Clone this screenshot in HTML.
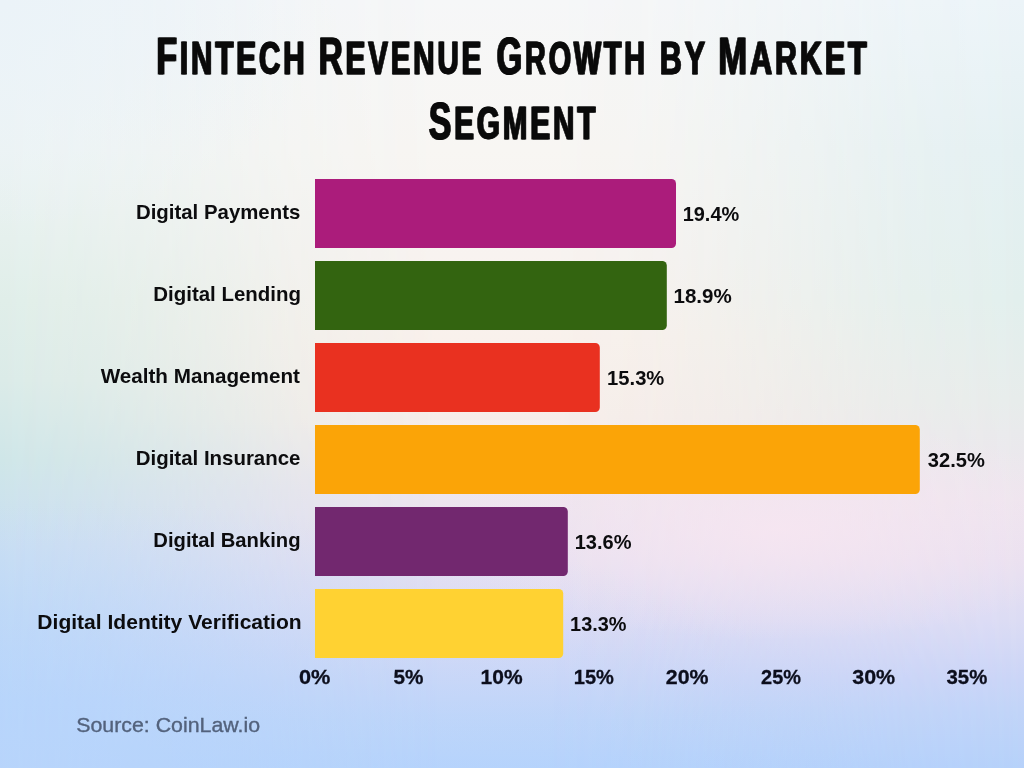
<!DOCTYPE html>
<html>
<head>
<meta charset="utf-8">
<title>Fintech Revenue Growth by Market Segment</title>
<style>
  html,body{margin:0;padding:0;}
  body{width:1024px;height:768px;overflow:hidden;position:relative;font-family:"Liberation Sans",sans-serif;}
  #bg,#bgL,#bgR,#bgP,#bgB,#bgT{position:absolute;left:0;top:0;width:1024px;height:768px;}
  #bg{background:linear-gradient(to bottom,#f6f7f8 0px,#f8f6f3 150px,#f8f3f0 255px,#f9f1ec 337px,#f7eeea 418px,#eee6ee 490px,#e8e1f1 560px,#dedcf4 620px,#cdd7f7 677px,#bfd5f9 720px,#b4d2fc 768px);}
  #bgL{background:linear-gradient(to bottom,#eef4f8 0px,#ecf3f3 150px,#e0eee9 300px,#dbebe8 380px,#cfe6e8 460px,#cce2ed 505px,#c9def2 545px,#bfd9f7 620px,#b6d4fb 700px,#b4d2fb 768px);
    -webkit-mask-image:linear-gradient(to right,rgba(0,0,0,1) 0px,rgba(0,0,0,.82) 100px,rgba(0,0,0,.55) 200px,rgba(0,0,0,.25) 300px,rgba(0,0,0,0) 440px);
    mask-image:linear-gradient(to right,rgba(0,0,0,1) 0px,rgba(0,0,0,.82) 100px,rgba(0,0,0,.55) 200px,rgba(0,0,0,.25) 300px,rgba(0,0,0,0) 440px);}
  #bgR{background:linear-gradient(to bottom,#ecf4f8 0px,#e4f0f2 150px,#e2efed 300px,#e7eceb 400px,#ede5ee 500px,#e8e0f0 560px,#dcdcf4 620px,#cbd5f7 677px,#c1d4f8 712px,#b6d1fa 768px);
    -webkit-mask-image:linear-gradient(to left,rgba(0,0,0,1) 0px,rgba(0,0,0,.8) 120px,rgba(0,0,0,.42) 250px,rgba(0,0,0,.1) 380px,rgba(0,0,0,0) 480px);
    mask-image:linear-gradient(to left,rgba(0,0,0,1) 0px,rgba(0,0,0,.8) 120px,rgba(0,0,0,.42) 250px,rgba(0,0,0,.1) 380px,rgba(0,0,0,0) 480px);}
  #bgP{background:radial-gradient(ellipse 340px 110px at 780px 530px,rgba(248,230,241,.8),rgba(248,230,241,0) 100%);}
  #bgB{background:radial-gradient(ellipse 900px 270px at 0px 768px,rgba(186,214,251,.6),rgba(182,212,252,0) 100%);}
  #bgT{background:radial-gradient(ellipse 330px 230px at 0px 0px,rgba(235,243,248,1),rgba(235,243,248,0) 100%);}

  svg{position:absolute;left:0;top:0;will-change:transform;}
  text{font-family:"Liberation Sans",sans-serif;}
</style>
</head>
<body>
<div id="bg"></div><div id="bgL"></div><div id="bgR"></div><div id="bgP"></div><div id="bgB"></div><div id="bgT"></div>
<svg width="1024" height="768" viewBox="0 0 1024 768">
  <g id="bars">
    <path d="M315 179H671.5a4.5 4.5 0 0 1 4.5 4.5V243.5a4.5 4.5 0 0 1 -4.5 4.5H315Z" fill="#ab1c7b"/>
    <path d="M315 261H662.3a4.5 4.5 0 0 1 4.5 4.5V325.5a4.5 4.5 0 0 1 -4.5 4.5H315Z" fill="#336410"/>
    <path d="M315 343H595.3a4.5 4.5 0 0 1 4.5 4.5V407.5a4.5 4.5 0 0 1 -4.5 4.5H315Z" fill="#e93120"/>
    <path d="M315 425H915.3a4.5 4.5 0 0 1 4.5 4.5V489.5a4.5 4.5 0 0 1 -4.5 4.5H315Z" fill="#fba407"/>
    <path d="M315 507H563.3a4.5 4.5 0 0 1 4.5 4.5V571.5a4.5 4.5 0 0 1 -4.5 4.5H315Z" fill="#72286f"/>
    <path d="M315 589H558.7a4.5 4.5 0 0 1 4.5 4.5V653.5a4.5 4.5 0 0 1 -4.5 4.5H315Z" fill="#ffd232"/>
  </g>
  <g id="title" font-weight="bold" fill="#0a0a0a" stroke="#0a0a0a" stroke-width="0.8" stroke-linejoin="miter" letter-spacing="4.5">
    <text x="155.8" y="74.1" textLength="151.19" lengthAdjust="spacingAndGlyphs"><tspan font-size="52.0">F</tspan><tspan font-size="45.5">INTECH</tspan></text>
    <text x="156.9" y="74.1" textLength="151.19" lengthAdjust="spacingAndGlyphs"><tspan font-size="52.0">F</tspan><tspan font-size="45.5">INTECH</tspan></text>
    <text x="317.91" y="74.1" textLength="165.75" lengthAdjust="spacingAndGlyphs"><tspan font-size="52.0">R</tspan><tspan font-size="45.5">EVENUE</tspan></text>
    <text x="319.01" y="74.1" textLength="165.75" lengthAdjust="spacingAndGlyphs"><tspan font-size="52.0">R</tspan><tspan font-size="45.5">EVENUE</tspan></text>
    <text x="496.09" y="74.1" textLength="151.31" lengthAdjust="spacingAndGlyphs"><tspan font-size="52.0">G</tspan><tspan font-size="45.5">ROWTH</tspan></text>
    <text x="497.19" y="74.1" textLength="151.31" lengthAdjust="spacingAndGlyphs"><tspan font-size="52.0">G</tspan><tspan font-size="45.5">ROWTH</tspan></text>
    <text x="659.24" y="74.1" textLength="48.39" lengthAdjust="spacingAndGlyphs"><tspan font-size="45.5">BY</tspan></text>
    <text x="660.34" y="74.1" textLength="48.39" lengthAdjust="spacingAndGlyphs"><tspan font-size="45.5">BY</tspan></text>
    <text x="717.64" y="74.1" textLength="151.44" lengthAdjust="spacingAndGlyphs"><tspan font-size="52.0">M</tspan><tspan font-size="45.5">ARKET</tspan></text>
    <text x="718.74" y="74.1" textLength="151.44" lengthAdjust="spacingAndGlyphs"><tspan font-size="52.0">M</tspan><tspan font-size="45.5">ARKET</tspan></text>
    <text x="428.18" y="138.9" textLength="169.64" lengthAdjust="spacingAndGlyphs"><tspan font-size="52.0">S</tspan><tspan font-size="45.5">EGMENT</tspan></text>
    <text x="429.28" y="138.9" textLength="169.64" lengthAdjust="spacingAndGlyphs"><tspan font-size="52.0">S</tspan><tspan font-size="45.5">EGMENT</tspan></text>
  </g>
  <g id="cats" font-weight="bold" font-size="19.8" fill="#0c0c0e">
    <text x="135.97" y="218.6" textLength="164.32" lengthAdjust="spacingAndGlyphs">Digital Payments</text>
    <text x="153.37" y="300.6" textLength="147.55" lengthAdjust="spacingAndGlyphs">Digital Lending</text>
    <text x="100.67" y="382.6" textLength="199.29" lengthAdjust="spacingAndGlyphs">Wealth Management</text>
    <text x="135.77" y="464.6" textLength="164.66" lengthAdjust="spacingAndGlyphs">Digital Insurance</text>
    <text x="153.39" y="546.6" textLength="147.15" lengthAdjust="spacingAndGlyphs">Digital Banking</text>
    <text x="37.33" y="628.6" textLength="264.31" lengthAdjust="spacingAndGlyphs">Digital Identity Verification</text>
  </g>
  <g id="vals" font-weight="bold" font-size="19.3" fill="#0c0c0e">
    <text x="682.71" y="220.8" textLength="56.52" lengthAdjust="spacingAndGlyphs">19.4%</text>
    <text x="673.48" y="302.9" textLength="58.27" lengthAdjust="spacingAndGlyphs">18.9%</text>
    <text x="607.09" y="384.8" textLength="57.24" lengthAdjust="spacingAndGlyphs">15.3%</text>
    <text x="927.8" y="466.8" textLength="57.03" lengthAdjust="spacingAndGlyphs">32.5%</text>
    <text x="574.7" y="548.8" textLength="56.73" lengthAdjust="spacingAndGlyphs">13.6%</text>
    <text x="570.11" y="630.9" textLength="56.42" lengthAdjust="spacingAndGlyphs">13.3%</text>
  </g>
  <g id="axis" font-weight="bold" font-size="20.0" fill="#0c0e1c" stroke="#0c0e1c" stroke-width="0.3">
    <text x="298.94" y="683.7" textLength="31.38" lengthAdjust="spacingAndGlyphs">0%</text>
    <text x="393.57" y="683.7" textLength="29.92" lengthAdjust="spacingAndGlyphs">5%</text>
    <text x="480.59" y="683.7" textLength="41.99" lengthAdjust="spacingAndGlyphs">10%</text>
    <text x="573.83" y="683.7" textLength="40.12" lengthAdjust="spacingAndGlyphs">15%</text>
    <text x="665.86" y="683.7" textLength="42.73" lengthAdjust="spacingAndGlyphs">20%</text>
    <text x="761.11" y="683.7" textLength="39.84" lengthAdjust="spacingAndGlyphs">25%</text>
    <text x="852.28" y="683.7" textLength="42.91" lengthAdjust="spacingAndGlyphs">30%</text>
    <text x="946.51" y="683.7" textLength="40.75" lengthAdjust="spacingAndGlyphs">35%</text>
  </g>
  <g id="src" font-size="20.4" fill="#53627c" stroke="#53627c" stroke-width="0.35">
    <text x="76.22" y="731.8" textLength="183.86" lengthAdjust="spacingAndGlyphs">Source: CoinLaw.io</text>
  </g>
</svg>
</body>
</html>
